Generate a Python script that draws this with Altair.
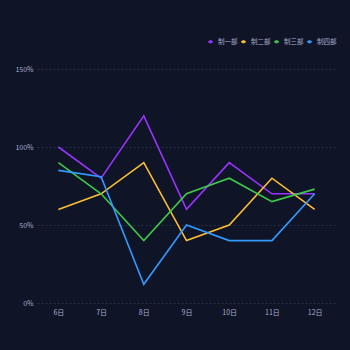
import altair as alt
import pandas as pd

days = ["6日", "7日", "8日", "9日", "10日", "11日", "12日"]
series_names = ["制一部", "制二部", "制三部", "制四部"]
s1 = [100, 80, 120, 60, 90, 70, 70]
s2 = [60, 70, 90, 40, 50, 80, 60]
s3 = [90, 70, 40, 70, 80, 65, 73]
s4 = [85, 81, 12, 50, 40, 40, 70]
colors = ["#9933ff", "#ffbf33", "#3fc94a", "#3399ff"]

rows = []
for name, vals in zip(series_names, [s1, s2, s3, s4]):
    for d, v in zip(days, vals):
        rows.append({"day": d, "series": name, "value": v / 100})
df = pd.DataFrame(rows)

font = "Noto Sans CJK SC"
sym = "M-0.5,0L-0.2,0M0.2,0L0.5,0M-0.2,0A0.2,0.2 0 1,0 0.2,0A0.2,0.2 0 1,0 -0.2,0Z"

chart = alt.Chart(df).mark_line(strokeWidth=1.6).encode(
    x=alt.X("day:N", sort=days, scale=alt.Scale(type="point", padding=0.5),
            axis=alt.Axis(title=None, labelAngle=0, domain=False, ticks=False, grid=False,
                          labelColor="#a8aecb", labelFontSize=7, labelFont=font, labelPadding=5)),
    y=alt.Y("value:Q", scale=alt.Scale(domain=[0, 1.5], nice=False),
            axis=alt.Axis(title=None, values=[0, 0.5, 1.0, 1.5], format=".0%", domain=False, ticks=False,
                          grid=True, gridColor="#262d4a", gridDash=[2, 2], gridWidth=1,
                          labelColor="#a8aecb", labelFontSize=7, labelFont=font, labelPadding=4)),
    color=alt.Color("series:N", sort=series_names,
                    scale=alt.Scale(domain=series_names, range=colors),
                    legend=alt.Legend(title=None, orient="none", direction="horizontal",
                                      legendX=168, legendY=-33, symbolType=sym, symbolSize=90,
                                      symbolStrokeWidth=1.5,
                                      labelColor="#a8aecb", labelFontSize=6.5, labelFont=font,
                                      columnPadding=0, labelOffset=2)),
).properties(
    width=299, height=234,
    background="#0f1427",
    padding={"left": 37, "top": 69, "right": 14, "bottom": 47},
    autosize=alt.AutoSizeParams(type="none"),
).configure_view(stroke=None)

chart.save("out.html", embed_options={"renderer": "svg", "actions": False})
